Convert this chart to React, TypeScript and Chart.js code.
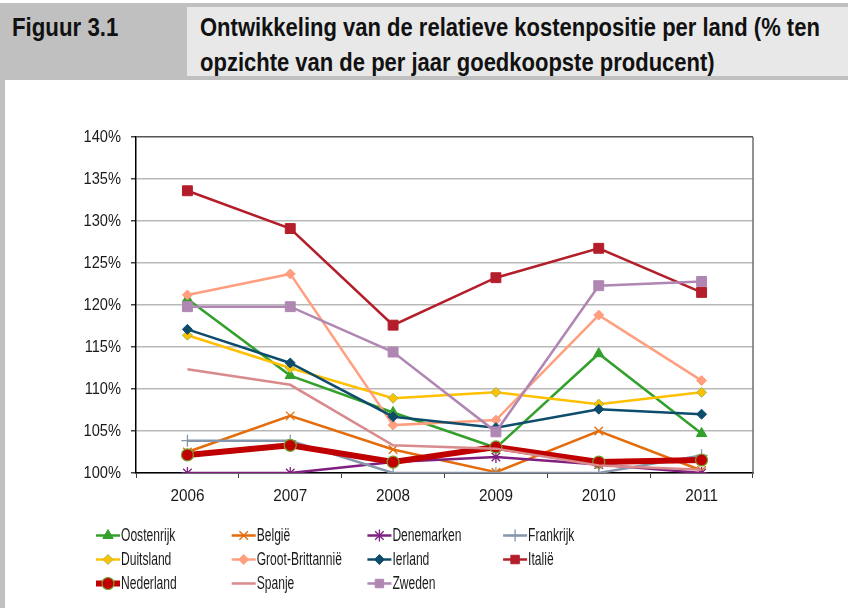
import React, { useEffect, useRef } from 'react';
import { Chart, registerables } from 'chart.js';

Chart.register(...registerables);

// ---- Data ----
const years = ['2006', '2007', '2008', '2009', '2010', '2011'];
const yTickValues = [100, 105, 110, 115, 120, 125, 130, 135, 140];

const countries = [
  'Oostenrijk', 'België', 'Denemarken', 'Frankrijk',
  'Duitsland', 'Groot-Brittannië', 'Ierland', 'Italië',
  'Nederland', 'Spanje', 'Zweden',
];

const oostenrijk = [120.7, 111.6, 107.2, 103.0, 114.2, 104.7];
const belgie = [102.5, 106.8, 102.8, 100.1, 105.0, 100.3];
const denemarken = [100.0, 100.0, 101.3, 101.9, 101.0, 100.0];
const frankrijk = [103.85, 103.85, 100.0, 100.0, 100.0, 102.1];
const duitsland = [116.4, 112.5, 108.9, 109.6, 108.2, 109.6];
const grootBrittannie = [121.2, 123.7, 105.7, 106.3, 118.8, 111.0];
const ierland = [117.1, 113.1, 106.7, 105.4, 107.6, 107.0];
const italie = [133.6, 129.1, 117.6, 123.25, 126.75, 121.5];
const nederland = [102.15, 103.3, 101.3, 103.1, 101.3, 101.55];
const spanje = [112.35, 110.5, 103.3, 102.9, 100.9, 100.4];
const zweden = [119.8, 119.8, 114.4, 104.9, 122.3, 122.8];

const seriesValues = [
  oostenrijk, belgie, denemarken, frankrijk, duitsland, grootBrittannie,
  ierland, italie, nederland, spanje, zweden,
];

// ---- Styles ----
type Sty = {
  color: string; width: number; marker: string | false; radius: number;
  fill: string; border: string; bw: number;
};
const styles: Sty[] = [
  { color: '#33a02c', width: 2.5, marker: 'triangle', radius: 6, fill: '#33a02c', border: '#33a02c', bw: 1 },
  { color: '#e46c0a', width: 2.5, marker: 'crossRot', radius: 6, fill: '#e46c0a', border: '#e46c0a', bw: 1.3 },
  { color: '#7f1f7f', width: 2.5, marker: 'star', radius: 6, fill: '#7f1f7f', border: '#7f1f7f', bw: 1.3 },
  { color: '#8596aa', width: 2.5, marker: 'cross', radius: 6, fill: '#8596aa', border: '#8596aa', bw: 1.3 },
  { color: '#ffc000', width: 2.5, marker: 'rectRot', radius: 5, fill: '#ffc000', border: '#9bbb59', bw: 1 },
  { color: '#ff9f7f', width: 2.5, marker: 'rectRot', radius: 5, fill: '#ff9f7f', border: '#ff9f7f', bw: 1 },
  { color: '#0e4c6c', width: 2.5, marker: 'rectRot', radius: 5, fill: '#0e4c6c', border: '#0e4c6c', bw: 1 },
  { color: '#b41e2a', width: 2.5, marker: 'rect', radius: 7, fill: '#b41e2a', border: '#b41e2a', bw: 1 },
  { color: '#c00000', width: 6, marker: 'circle', radius: 6, fill: '#c00000', border: '#77a030', bw: 1.2 },
  { color: '#d98a8c', width: 2.5, marker: false, radius: 0, fill: '#d98a8c', border: '#d98a8c', bw: 1 },
  { color: '#b086b3', width: 2.5, marker: 'rect', radius: 7, fill: '#b086b3', border: '#b086b3', bw: 1 },
];

const FONT = '"Liberation Sans", Arial, sans-serif';

function drawMarker(ctx: CanvasRenderingContext2D, style: string | false, x: number, y: number, r: number,
  fill: string, stroke: string, bw: number) {
  if (!style || r <= 0) return;
  ctx.save();
  ctx.fillStyle = fill;
  ctx.strokeStyle = stroke;
  ctx.lineWidth = bw;
  ctx.beginPath();
  const c = Math.SQRT1_2 * r;
  switch (style) {
    case 'circle':
      ctx.arc(x, y, r, 0, Math.PI * 2);
      ctx.closePath(); ctx.fill(); ctx.stroke(); break;
    case 'triangle': {
      let a = 0;
      ctx.moveTo(x + Math.sin(a) * r, y - Math.cos(a) * r);
      a += (2 * Math.PI) / 3;
      ctx.lineTo(x + Math.sin(a) * r, y - Math.cos(a) * r);
      a += (2 * Math.PI) / 3;
      ctx.lineTo(x + Math.sin(a) * r, y - Math.cos(a) * r);
      ctx.closePath(); ctx.fill(); ctx.stroke(); break;
    }
    case 'rect':
      ctx.rect(x - c, y - c, 2 * c, 2 * c);
      ctx.fill(); ctx.stroke(); break;
    case 'rectRot':
      ctx.moveTo(x - r, y); ctx.lineTo(x, y + r); ctx.lineTo(x + r, y); ctx.lineTo(x, y - r);
      ctx.closePath(); ctx.fill(); ctx.stroke(); break;
    case 'cross':
      ctx.moveTo(x, y - r); ctx.lineTo(x, y + r); ctx.moveTo(x - r, y); ctx.lineTo(x + r, y);
      ctx.stroke(); break;
    case 'crossRot':
      ctx.moveTo(x - c, y - c); ctx.lineTo(x + c, y + c); ctx.moveTo(x - c, y + c); ctx.lineTo(x + c, y - c);
      ctx.stroke(); break;
    case 'star':
      ctx.moveTo(x, y - r); ctx.lineTo(x, y + r); ctx.moveTo(x - c, y - c); ctx.lineTo(x + c, y + c);
      ctx.moveTo(x - c, y + c); ctx.lineTo(x + c, y - c);
      ctx.stroke(); break;
  }
  ctx.restore();
}

function drawNarrowText(ctx: CanvasRenderingContext2D, text: string, x: number, y: number,
  size: number, sx: number, align: CanvasTextAlign) {
  ctx.save();
  ctx.translate(x, y);
  ctx.scale(sx, 1);
  ctx.font = `${size}px ${FONT}`;
  ctx.fillStyle = '#1a1a1a';
  ctx.textAlign = align;
  ctx.textBaseline = 'middle';
  ctx.fillText(text, 0, 0);
  ctx.restore();
}

const legendPlugin = {
  id: 'gridLegend',
  afterDraw(chart: any) {
    const ctx: CanvasRenderingContext2D = chart.ctx;
    const { left, right, top, bottom } = chart.chartArea;
    // right border of the plot area
    ctx.save();
    ctx.strokeStyle = '#6e6e6e';
    ctx.lineWidth = 1.5;
    ctx.beginPath();
    ctx.moveTo(right, top);
    ctx.lineTo(right, bottom);
    ctx.stroke();
    ctx.restore();

    // axis tick labels (narrow)
    const ys = chart.scales.y;
    yTickValues.forEach((v) => {
      drawNarrowText(ctx, `${v}%`, left - 15, ys.getPixelForValue(v) + 0.5, 17, 0.86, 'right');
    });
    const xs = chart.scales.x;
    years.forEach((lab, i) => {
      drawNarrowText(ctx, lab, xs.getPixelForValue(i), bottom + 23, 17, 0.9, 'center');
    });

    countries.forEach((name, i) => {
      const s = styles[i];
      const col = i % 4;
      const row = Math.floor(i / 4);
      const x = 91 + col * 135.7;
      const y = 455.5 + row * 24;
      ctx.save();
      ctx.strokeStyle = s.color;
      ctx.lineWidth = s.width;
      ctx.beginPath();
      ctx.moveTo(x, y);
      ctx.lineTo(x + 24, y);
      ctx.stroke();
      ctx.restore();
      drawMarker(ctx, s.marker, x + 12, y, Math.min(s.radius, 6), s.fill, s.border, s.bw);
      drawNarrowText(ctx, name, x + 25, y + 0.5, 17.5, 0.69, 'left');
    });
  },
};

function ChartView() {
  const ref = useRef<HTMLCanvasElement | null>(null);
  useEffect(() => {
    if (!ref.current) return;
    const n = countries.length;
    const datasets = countries.map((name, i) => {
      const s = styles[i];
      return {
        label: name,
        data: seriesValues[i],
        borderColor: s.color,
        backgroundColor: s.color,
        borderWidth: s.width,
        fill: false,
        tension: 0,
        pointStyle: s.marker === false ? 'circle' : s.marker,
        pointRadius: s.radius,
        pointBackgroundColor: s.fill,
        pointBorderColor: s.border,
        pointBorderWidth: s.bw,
        order: n - i,
      };
    });
    const chart = new Chart(ref.current, {
      type: 'line',
      data: { labels: years, datasets },
      options: {
        responsive: false,
        animation: false,
        events: [],
        layout: { padding: { left: 71, right: 95, top: 57, bottom: 105 } },
        plugins: { legend: { display: false }, tooltip: { enabled: false }, title: { display: false } },
        scales: {
          x: {
            offset: true,
            grid: { offset: true, drawOnChartArea: false, tickLength: 5, tickColor: '#404040', lineWidth: 1 },
            border: { color: '#000', width: 1.5 },
            ticks: { display: false },
            afterFit: (s: any) => { s.height = 30; },
          },
          y: {
            min: 100,
            max: 140,
            afterBuildTicks: (s: any) => { s.ticks = yTickValues.map((v) => ({ value: v })); },
            grid: {
              color: (c: any) => (c.tick && c.tick.value === 140 ? '#555555' : '#b9b9b9'),
              lineWidth: 1.5,
              tickLength: 5,
              tickColor: '#404040',
            },
            border: { color: '#000', width: 1.5 },
            ticks: { display: false },
            afterFit: (s: any) => { s.width = 60; },
          },
        },
      },
      plugins: [legendPlugin],
    });
    return () => chart.destroy();
  }, []);
  return <canvas ref={ref} width={843} height={528} style={{ position: 'absolute', left: 5, top: 80, width: 843, height: 528 }} />;
}

export default function App() {
  const titleFont = '"Liberation Sans", Arial, sans-serif';
  const txt: React.CSSProperties = {
    position: 'absolute', top: 10, fontFamily: titleFont, fontWeight: 'bold', fontSize: 25,
    lineHeight: '35px', color: '#111', whiteSpace: 'nowrap', transform: 'scaleX(0.89)', transformOrigin: 'left top',
  };
  return (
    <div style={{ position: 'fixed', left: 0, top: 0, width: 848, height: 608, background: '#fff', overflow: 'hidden' }}>
      <div style={{ position: 'absolute', left: 0, top: 3, width: 848, height: 77, background: '#c0c0c0' }} />
      <div style={{ position: 'absolute', left: 187, top: 7, width: 661, height: 69, background: '#e8e8e8' }} />
      <div style={{ position: 'absolute', left: 0, top: 80, width: 5, height: 528, background: '#c0c0c0' }} />
      <div style={{ ...txt, left: 12 }}>Figuur 3.1</div>
      <div style={{ ...txt, left: 200, transform: 'scaleX(0.88)' }}>
        Ontwikkeling van de relatieve kostenpositie per land (% ten<br />
        opzichte van de per jaar goedkoopste producent)
      </div>
      <ChartView />
    </div>
  );
}
